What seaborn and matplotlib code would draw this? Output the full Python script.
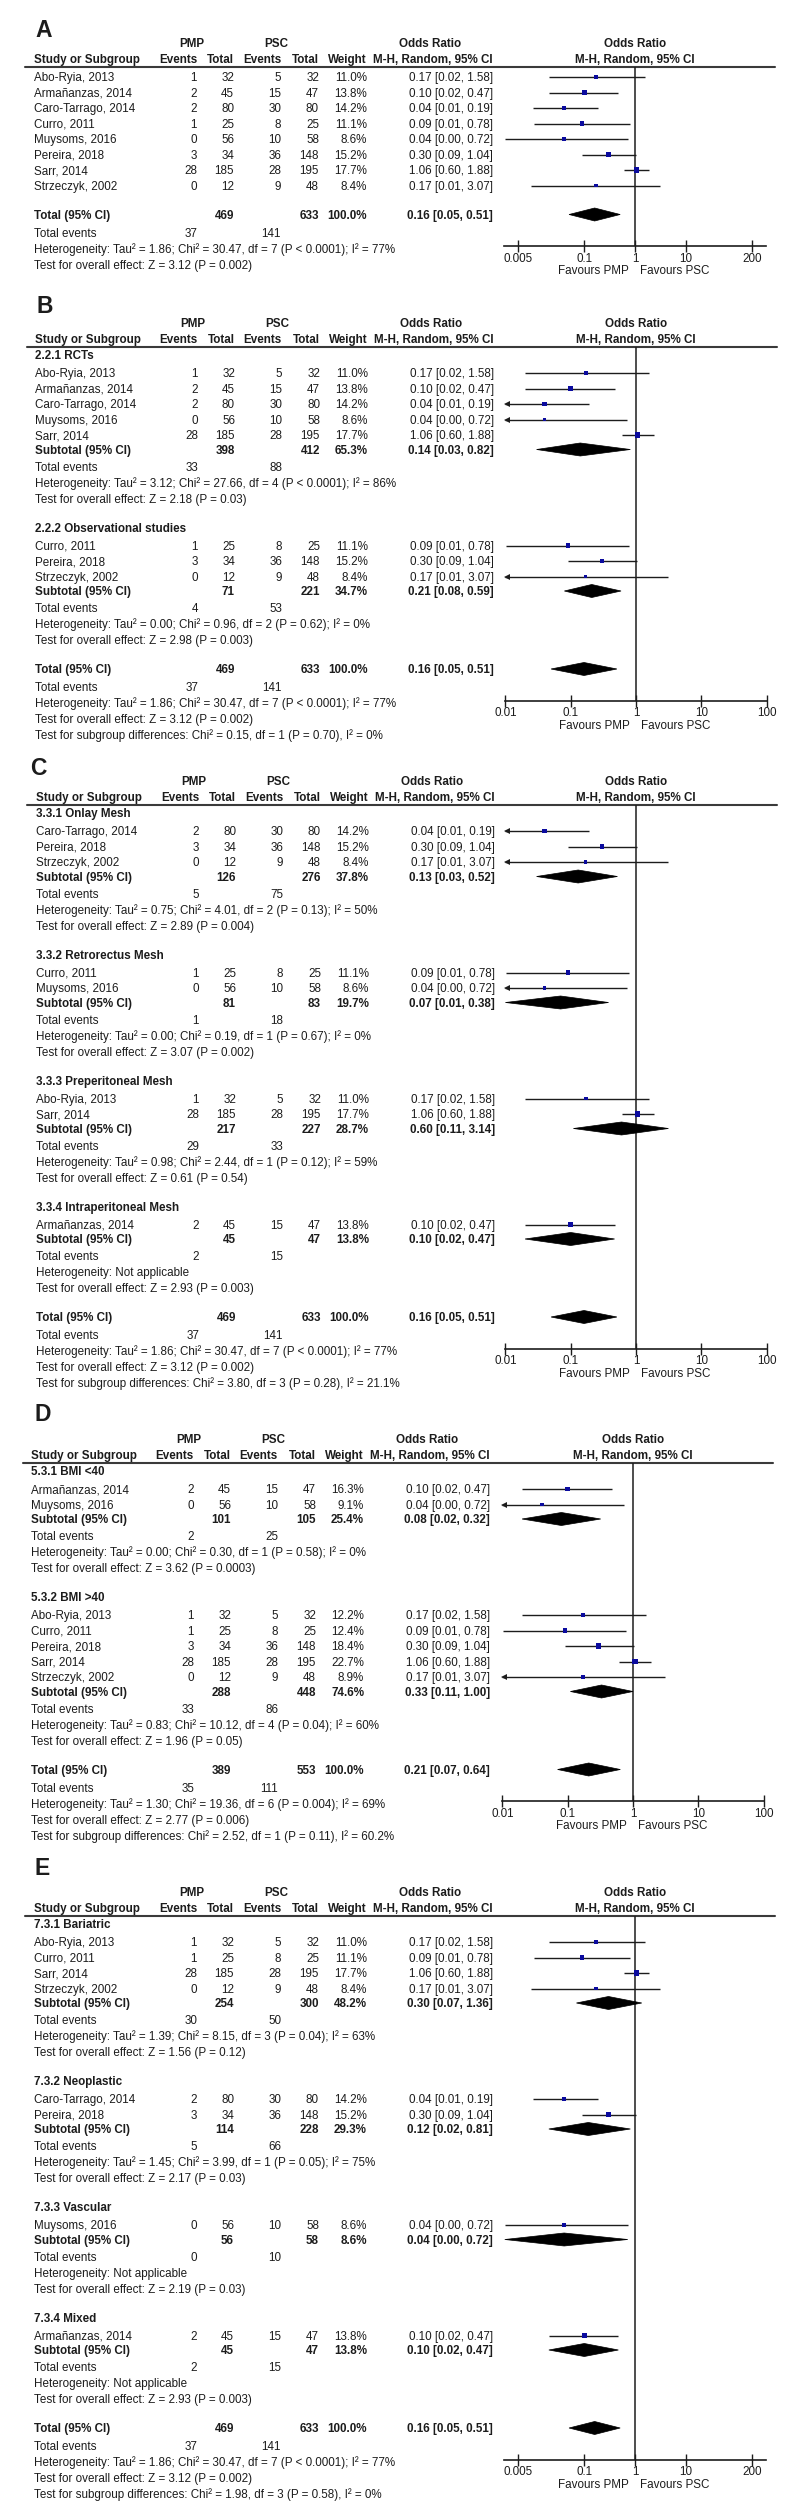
import matplotlib
matplotlib.use('Agg')
import matplotlib.pyplot as plt
from matplotlib.patches import Polygon
from matplotlib.ticker import NullLocator
import pandas as pd
import seaborn as sns

# ---- study level data (same studies appear in every panel) ----
STUDY = ['Abo-Ryia, 2013', 'Armañanzas, 2014', 'Caro-Tarrago, 2014', 'Curro, 2011',
         'Muysoms, 2016', 'Pereira, 2018', 'Sarr, 2014', 'Strzeczyk, 2002']
PMP_EVENTS = [1, 2, 2, 1, 0, 3, 28, 0]
PMP_TOTAL = [32, 45, 80, 25, 56, 34, 185, 12]
PSC_EVENTS = [5, 15, 30, 8, 10, 36, 28, 9]
PSC_TOTAL = [32, 47, 80, 25, 58, 148, 195, 48]
WEIGHT = [11.0, 13.8, 14.2, 11.1, 8.6, 15.2, 17.7, 8.4]
D_WEIGHT = [12.2, 16.3, 0.0, 12.4, 9.1, 18.4, 22.7, 8.9]
OR = [0.17, 0.10, 0.04, 0.09, 0.04, 0.30, 1.06, 0.17]
OR_LOW = [0.02, 0.02, 0.0098, 0.0101, 0.0027, 0.09, 0.60, 0.009]
OR_HIGH = [1.58, 0.47, 0.19, 0.78, 0.72, 1.04, 1.88, 3.07]

# ---- overall totals ----
TOTAL = dict(pt=469, st=633, w=100.0, od=0.16, lo=0.05, hi=0.51, pe=37, se=141,
             het='Heterogeneity: Tau² = 1.86; Chi² = 30.47, df = 7 (P < 0.0001); I² = 77%',
             eff='Test for overall effect: Z = 3.12 (P = 0.002)')
D_TOTAL = dict(pt=389, st=553, w=100.0, od=0.21, lo=0.07, hi=0.64, pe=35, se=111,
               het='Heterogeneity: Tau² = 1.30; Chi² = 19.36, df = 6 (P = 0.004); I² = 69%',
               eff='Test for overall effect: Z = 2.77 (P = 0.006)')

# ---- panel B: study design ----
B_GROUPS = ['2.2.1 RCTs', '2.2.2 Observational studies']
B_MEMBERS = [[0, 1, 2, 4, 6], [3, 5, 7]]
B_SUB_OR = [0.14, 0.21]
B_SUB_LOW = [0.03, 0.08]
B_SUB_HIGH = [0.82, 0.59]
B_SUB_WEIGHT = [65.3, 34.7]
B_SUB_PMP_TOTAL = [398, 71]
B_SUB_PSC_TOTAL = [412, 221]
B_SUB_PMP_EVENTS = [33, 4]
B_SUB_PSC_EVENTS = [88, 53]
B_HET = ['Heterogeneity: Tau² = 3.12; Chi² = 27.66, df = 4 (P < 0.0001); I² = 86%',
         'Heterogeneity: Tau² = 0.00; Chi² = 0.96, df = 2 (P = 0.62); I² = 0%']
B_EFF = ['Test for overall effect: Z = 2.18 (P = 0.03)',
         'Test for overall effect: Z = 2.98 (P = 0.003)']
B_SUBTEST = 'Test for subgroup differences: Chi² = 0.15, df = 1 (P = 0.70), I² = 0%'

# ---- panel C: mesh position ----
C_GROUPS = ['3.3.1 Onlay Mesh', '3.3.2 Retrorectus Mesh', '3.3.3 Preperitoneal Mesh',
            '3.3.4 Intraperitoneal Mesh']
C_MEMBERS = [[2, 5, 7], [3, 4], [0, 6], [1]]
C_SUB_OR = [0.13, 0.07, 0.60, 0.10]
C_SUB_LOW = [0.03, 0.01, 0.11, 0.02]
C_SUB_HIGH = [0.52, 0.38, 3.14, 0.47]
C_SUB_WEIGHT = [37.8, 19.7, 28.7, 13.8]
C_SUB_PMP_TOTAL = [126, 81, 217, 45]
C_SUB_PSC_TOTAL = [276, 83, 227, 47]
C_SUB_PMP_EVENTS = [5, 1, 29, 2]
C_SUB_PSC_EVENTS = [75, 18, 33, 15]
C_HET = ['Heterogeneity: Tau² = 0.75; Chi² = 4.01, df = 2 (P = 0.13); I² = 50%',
         'Heterogeneity: Tau² = 0.00; Chi² = 0.19, df = 1 (P = 0.67); I² = 0%',
         'Heterogeneity: Tau² = 0.98; Chi² = 2.44, df = 1 (P = 0.12); I² = 59%',
         'Heterogeneity: Not applicable']
C_EFF = ['Test for overall effect: Z = 2.89 (P = 0.004)',
         'Test for overall effect: Z = 3.07 (P = 0.002)',
         'Test for overall effect: Z = 0.61 (P = 0.54)',
         'Test for overall effect: Z = 2.93 (P = 0.003)']
C_SUBTEST = 'Test for subgroup differences: Chi² = 3.80, df = 3 (P = 0.28), I² = 21.1%'

# ---- panel D: BMI ----
D_GROUPS = ['5.3.1 BMI <40', '5.3.2 BMI >40']
D_MEMBERS = [[1, 4], [0, 3, 5, 6, 7]]
D_SUB_OR = [0.08, 0.33]
D_SUB_LOW = [0.02, 0.11]
D_SUB_HIGH = [0.32, 1.00]
D_SUB_WEIGHT = [25.4, 74.6]
D_SUB_PMP_TOTAL = [101, 288]
D_SUB_PSC_TOTAL = [105, 448]
D_SUB_PMP_EVENTS = [2, 33]
D_SUB_PSC_EVENTS = [25, 86]
D_HET = ['Heterogeneity: Tau² = 0.00; Chi² = 0.30, df = 1 (P = 0.58); I² = 0%',
         'Heterogeneity: Tau² = 0.83; Chi² = 10.12, df = 4 (P = 0.04); I² = 60%']
D_EFF = ['Test for overall effect: Z = 3.62 (P = 0.0003)',
         'Test for overall effect: Z = 1.96 (P = 0.05)']
D_SUBTEST = 'Test for subgroup differences: Chi² = 2.52, df = 1 (P = 0.11), I² = 60.2%'

# ---- panel E: indication ----
E_GROUPS = ['7.3.1 Bariatric', '7.3.2 Neoplastic', '7.3.3 Vascular', '7.3.4 Mixed']
E_MEMBERS = [[0, 3, 6, 7], [2, 5], [4], [1]]
E_SUB_OR = [0.30, 0.12, 0.04, 0.10]
E_SUB_LOW = [0.07, 0.02, 0.0027, 0.02]
E_SUB_HIGH = [1.36, 0.81, 0.72, 0.47]
E_SUB_WEIGHT = [48.2, 29.3, 8.6, 13.8]
E_SUB_PMP_TOTAL = [254, 114, 56, 45]
E_SUB_PSC_TOTAL = [300, 228, 58, 47]
E_SUB_PMP_EVENTS = [30, 5, 0, 2]
E_SUB_PSC_EVENTS = [50, 66, 10, 15]
E_HET = ['Heterogeneity: Tau² = 1.39; Chi² = 8.15, df = 3 (P = 0.04); I² = 63%',
         'Heterogeneity: Tau² = 1.45; Chi² = 3.99, df = 1 (P = 0.05); I² = 75%',
         'Heterogeneity: Not applicable',
         'Heterogeneity: Not applicable']
E_EFF = ['Test for overall effect: Z = 1.56 (P = 0.12)',
         'Test for overall effect: Z = 2.17 (P = 0.03)',
         'Test for overall effect: Z = 2.19 (P = 0.03)',
         'Test for overall effect: Z = 2.93 (P = 0.003)']
E_SUBTEST = 'Test for subgroup differences: Chi² = 1.98, df = 3 (P = 0.58), I² = 0%'

WIDE_TICKS = [0.005, 0.1, 1, 10, 200]
WIDE_LABELS = ['0.005', '0.1', '1', '10', '200']
NARROW_TICKS = [0.01, 0.1, 1, 10, 100]
NARROW_LABELS = ['0.01', '0.1', '1', '10', '100']

W, H = 800, 2510
INK = '#1c1c1c'
BLUE = '#0b0b9e'
FS = 8.4
CAP = 4.2  # half cap height in px, text is placed on its baseline
COLS = dict(name=34, pe=197, pt=234, se=281, st=319, w=367, ort=493)

sns.set_theme(style='white')
plt.rcParams['font.family'] = ['Liberation Sans', 'DejaVu Sans']

fig = plt.figure(figsize=(8, 25.1), dpi=100)
canvas = fig.add_axes([0, 0, 1, 1])
canvas.set_xlim(0, W)
canvas.set_ylim(H, 0)
canvas.axis('off')


def txt(x, y, s, ha='left', bold=False, size=FS):
    canvas.text(x, y + CAP, s, ha=ha, va='baseline', fontsize=size, color=INK,
                fontweight='bold' if bold else 'normal')


def step(prev, kind):
    if prev == 'line':
        return 8 if kind == 'head' else 10
    if prev == 'head':
        return 18
    if prev == 'study':
        return 15.5 if kind == 'study' else 14.5
    if prev == 'sub':
        return 17
    if prev == 'total':
        return 18
    if prev in ('tev', 'het'):
        return 16
    if prev == 'test':
        return 14.5 if kind == 'blank' else 16
    return 14.5


def build_rows(p):
    rows = []
    if p['groups'] is None:
        rows += [('study', i) for i in p['members'][0]]
        rows.append(('blank', None))
    else:
        for g in range(len(p['groups'])):
            rows.append(('head', g))
            rows += [('study', i) for i in p['members'][g]]
            rows += [('sub', g), ('tev', g), ('het', g), ('test', g), ('blank', None)]
    rows += [('total', None), ('tev', 'T'), ('het', 'T'), ('test', 'T')]
    if p['subtest']:
        rows.append(('test', 'S'))
    return rows


def ci_text(o, lo, hi):
    return f'{o:.2f} [{lo:.2f}, {hi:.2f}]'


def diamond(ax, y, o, lo, hi, xmin, xmax):
    pts = [(max(lo, xmin), y), (o, y - 6.5), (min(hi, xmax), y), (o, y + 6.5)]
    ax.add_patch(Polygon(pts, closed=True, facecolor='black', edgecolor='black', lw=0.5, zorder=3))


def draw_panel(p):
    dx = p['dx']
    c = {k: v + dx for k, v in COLS.items()}
    hy = p['header_y']
    rows = build_rows(p)
    ys, prev, y = [], 'line', hy
    for kind, _ in rows:
        y += step(prev, kind)
        ys.append(y)
        prev = kind
    total_y = ys[[k for k, _ in rows].index('total')]
    axis_y = total_y + 31.5
    tot = p['total']

    # panel letter and column headers
    txt(p['letter_x'], p['letter_y'] + 4, p['letter'], bold=True, size=16.5)
    txt(192 + dx, hy - 24, 'PMP', ha='center', bold=True)
    txt(276 + dx, hy - 24, 'PSC', ha='center', bold=True)
    txt(430 + dx, hy - 24, 'Odds Ratio', ha='center', bold=True)
    txt(p['x1'], hy - 24, 'Odds Ratio', ha='center', bold=True)
    txt(c['name'], hy - 8, 'Study or Subgroup', bold=True)
    txt(c['pe'], hy - 8, 'Events', ha='right', bold=True)
    txt(c['pt'], hy - 8, 'Total', ha='right', bold=True)
    txt(c['se'], hy - 8, 'Events', ha='right', bold=True)
    txt(c['st'], hy - 8, 'Total', ha='right', bold=True)
    txt(c['w'], hy - 8, 'Weight', ha='right', bold=True)
    txt(c['ort'], hy - 8, 'M-H, Random, 95% CI', ha='right', bold=True)
    txt(p['x1'], hy - 8, 'M-H, Random, 95% CI', ha='center', bold=True)
    canvas.plot([p['line'][0], p['line'][1]], [hy, hy], color='#3a3a3a', lw=1.5)

    # forest axes: x on log scale, y in pixel rows
    left = p['x1'] - p['dec'] * p['lim']
    right = p['x1'] + p['dec'] * p['lim']
    ax = fig.add_axes([left / W, 1 - axis_y / H, (right - left) / W, (axis_y - hy) / H])
    ax.patch.set_alpha(0)
    ax.set_xscale('log')
    xmin, xmax = 10 ** -p['lim'], 10 ** p['lim']

    weights = p['weights']
    study_rows = []
    for (kind, key), y in zip(rows, ys):
        if kind == 'head':
            txt(c['name'], y, p['groups'][key], bold=True)
        elif kind == 'study':
            i = key
            txt(c['name'], y, STUDY[i])
            txt(c['pe'], y, str(PMP_EVENTS[i]), ha='right')
            txt(c['pt'], y, str(PMP_TOTAL[i]), ha='right')
            txt(c['se'], y, str(PSC_EVENTS[i]), ha='right')
            txt(c['st'], y, str(PSC_TOTAL[i]), ha='right')
            txt(c['w'], y, f'{weights[i]:.1f}%', ha='right')
            txt(c['ort'], y, ci_text(OR[i], OR_LOW[i], OR_HIGH[i]), ha='right')
            study_rows.append(dict(y=y, od=OR[i], lo=OR_LOW[i], hi=OR_HIGH[i], w=weights[i]))
        elif kind == 'sub':
            g = key
            txt(c['name'], y, 'Subtotal (95% CI)', bold=True)
            txt(c['pt'], y, str(p['sub_pt'][g]), ha='right', bold=True)
            txt(c['st'], y, str(p['sub_st'][g]), ha='right', bold=True)
            txt(c['w'], y, f"{p['sub_w'][g]:.1f}%", ha='right', bold=True)
            txt(c['ort'], y, ci_text(p['sub_or'][g], p['sub_lo'][g], p['sub_hi'][g]),
                ha='right', bold=True)
            diamond(ax, y, p['sub_or'][g], p['sub_lo'][g], p['sub_hi'][g], xmin, xmax)
        elif kind == 'total':
            txt(c['name'], y, 'Total (95% CI)', bold=True)
            txt(c['pt'], y, str(tot['pt']), ha='right', bold=True)
            txt(c['st'], y, str(tot['st']), ha='right', bold=True)
            txt(c['w'], y, f"{tot['w']:.1f}%", ha='right', bold=True)
            txt(c['ort'], y, ci_text(tot['od'], tot['lo'], tot['hi']), ha='right', bold=True)
            diamond(ax, y, tot['od'], tot['lo'], tot['hi'], xmin, xmax)
        elif kind == 'tev':
            pe = tot['pe'] if key == 'T' else p['sub_pe'][key]
            se = tot['se'] if key == 'T' else p['sub_se'][key]
            txt(c['name'], y, 'Total events')
            txt(c['pe'], y, str(pe), ha='right')
            txt(c['se'], y, str(se), ha='right')
        elif kind == 'het':
            txt(c['name'], y, tot['het'] if key == 'T' else p['het'][key])
        elif kind == 'test':
            if key == 'T':
                s = tot['eff']
            elif key == 'S':
                s = p['subtest']
            else:
                s = p['eff'][key]
            txt(c['name'], y, s)

    df = pd.DataFrame(study_rows)
    ax.hlines(df['y'], df['lo'].clip(lower=xmin), df['hi'].clip(upper=xmax),
              color=INK, lw=1.0, zorder=2)
    for _, r in df[df['lo'] < xmin].iterrows():
        ax.plot([xmin * 1.07], [r['y']], marker='<', ms=4.5, color=INK, mew=0, clip_on=False)
    for _, r in df[df['hi'] > xmax].iterrows():
        ax.plot([xmax / 1.07], [r['y']], marker='>', ms=4.5, color=INK, mew=0, clip_on=False)
    sns.scatterplot(data=df, x='od', y='y', size='w',
                    sizes={w: 0.75 * w for w in df['w'].unique()},
                    marker='s', color=BLUE, edgecolor=BLUE, linewidth=0,
                    legend=False, ax=ax, zorder=4)

    ax.axvline(1, color=INK, lw=1.1, zorder=1)
    ax.set_xlim(xmin, xmax)
    ax.set_ylim(axis_y, hy)
    ax.set_xlabel('')
    ax.set_ylabel('')
    ax.set_yticks([])
    ax.set_xticks(p['ticks'])
    ax.set_xticklabels(p['tick_labels'])
    ax.xaxis.set_minor_locator(NullLocator())
    ax.tick_params(axis='x', which='major', direction='inout', length=9, width=1,
                   color=INK, labelsize=FS, labelcolor=INK, pad=0.5, bottom=True)
    for side in ('top', 'left', 'right'):
        ax.spines[side].set_visible(False)
    ax.spines['bottom'].set_color(INK)
    ax.spines['bottom'].set_linewidth(1.2)

    txt(p['x1'] - 6, axis_y + 24, 'Favours PMP', ha='right')
    txt(p['x1'] + 5, axis_y + 24, 'Favours PSC', ha='left')


def grouped(letter, groups, members, sub_or, sub_lo, sub_hi, sub_w, sub_pt, sub_st,
            sub_pe, sub_se, het, eff, subtest, **kw):
    return dict(letter=letter, groups=groups, members=members, sub_or=sub_or, sub_lo=sub_lo,
                sub_hi=sub_hi, sub_w=sub_w, sub_pt=sub_pt, sub_st=sub_st, sub_pe=sub_pe,
                sub_se=sub_se, het=het, eff=eff, subtest=subtest, **kw)


wide = dict(x1=635, dec=50.7, lim=2.58, ticks=WIDE_TICKS, tick_labels=WIDE_LABELS)
narrow = dict(dec=65.3, lim=2.0, ticks=NARROW_TICKS, tick_labels=NARROW_LABELS)

panels = [
    dict(letter='A', groups=None, members=[list(range(len(STUDY)))], subtest=None,
         weights=WEIGHT, total=TOTAL, header_y=67, letter_y=29, letter_x=35, dx=0,
         line=(25, 775), **wide),
    grouped('B', B_GROUPS, B_MEMBERS, B_SUB_OR, B_SUB_LOW, B_SUB_HIGH, B_SUB_WEIGHT,
            B_SUB_PMP_TOTAL, B_SUB_PSC_TOTAL, B_SUB_PMP_EVENTS, B_SUB_PSC_EVENTS,
            B_HET, B_EFF, B_SUBTEST, weights=WEIGHT, total=TOTAL, header_y=347,
            letter_y=305, letter_x=37, dx=1, line=(27, 777), x1=636, **narrow),
    grouped('C', C_GROUPS, C_MEMBERS, C_SUB_OR, C_SUB_LOW, C_SUB_HIGH, C_SUB_WEIGHT,
            C_SUB_PMP_TOTAL, C_SUB_PSC_TOTAL, C_SUB_PMP_EVENTS, C_SUB_PSC_EVENTS,
            C_HET, C_EFF, C_SUBTEST, weights=WEIGHT, total=TOTAL, header_y=805,
            letter_y=767, letter_x=30, dx=2, line=(27, 777), x1=636, **narrow),
    grouped('D', D_GROUPS, D_MEMBERS, D_SUB_OR, D_SUB_LOW, D_SUB_HIGH, D_SUB_WEIGHT,
            D_SUB_PMP_TOTAL, D_SUB_PSC_TOTAL, D_SUB_PMP_EVENTS, D_SUB_PSC_EVENTS,
            D_HET, D_EFF, D_SUBTEST, weights=D_WEIGHT, total=D_TOTAL, header_y=1463,
            letter_y=1413, letter_x=34, dx=-3, line=(23, 773), x1=633, **narrow),
    grouped('E', E_GROUPS, E_MEMBERS, E_SUB_OR, E_SUB_LOW, E_SUB_HIGH, E_SUB_WEIGHT,
            E_SUB_PMP_TOTAL, E_SUB_PSC_TOTAL, E_SUB_PMP_EVENTS, E_SUB_PSC_EVENTS,
            E_HET, E_EFF, E_SUBTEST, weights=WEIGHT, total=TOTAL, header_y=1916,
            letter_y=1867, letter_x=34, dx=0, line=(25, 775), **wide),
]

for panel in panels:
    draw_panel(panel)

fig.savefig('out.png', dpi=100, facecolor='white')
